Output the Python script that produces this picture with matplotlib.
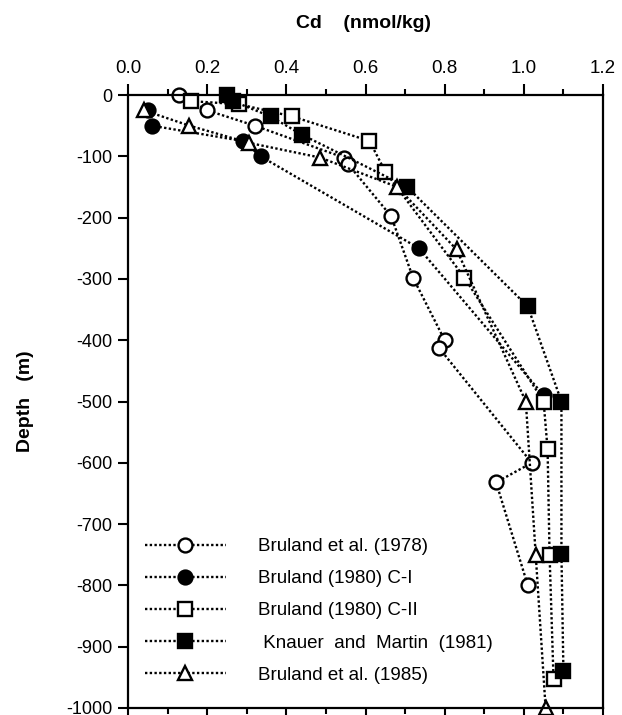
import matplotlib
matplotlib.use('Agg')
import matplotlib.pyplot as plt
from matplotlib.ticker import MultipleLocator, FuncFormatter

plt.rcParams['font.family'] = ['Liberation Sans', 'DejaVu Sans']
plt.rcParams['axes.unicode_minus'] = False

# Cd (nmol/kg) vs depth (m)
b1978_cd = [0.13, 0.20, 0.32, 0.545, 0.555, 0.665, 0.72, 0.80, 0.785, 1.02, 0.93, 1.01]
b1978_z = [0, -25, -50, -102, -112, -198, -298, -400, -412, -600, -632, -800]

c1_cd = [0.05, 0.06, 0.29, 0.335, 0.735, 1.05]
c1_z = [-25, -50, -75, -100, -250, -490]

c2_cd = [0.16, 0.28, 0.415, 0.61, 0.65, 0.85, 1.05, 1.06, 1.065, 1.075]
c2_z = [-10, -15, -35, -75, -125, -298, -500, -578, -750, -952]

km_cd = [0.25, 0.265, 0.36, 0.44, 0.705, 1.01, 1.095, 1.095, 1.10]
km_z = [0, -10, -35, -65, -150, -345, -500, -748, -940]

b1985_cd = [0.04, 0.155, 0.305, 0.485, 0.68, 0.83, 1.005, 1.03, 1.055]
b1985_z = [-25, -50, -78, -102, -150, -252, -500, -750, -1000]

labels = ['Bruland et al. (1978)', 'Bruland (1980) C-I', 'Bruland (1980) C-II',
          ' Knauer  and  Martin  (1981)', 'Bruland et al. (1985)']

fig = plt.figure(figsize=(6.22, 7.15), dpi=100)
ax = fig.add_axes([128/622, 1-708/715, (603-128)/622, (708-95)/715])

series = [(b1978_cd, b1978_z, 'o', 'white'),
          (c1_cd, c1_z, 'o', 'black'),
          (c2_cd, c2_z, 's', 'white'),
          (km_cd, km_z, 's', 'black'),
          (b1985_cd, b1985_z, '^', 'white')]

for (x, z, m, fc), lab in zip(series, labels):
    ax.plot(x, z, color='black', linestyle=(0, (1, 1)), linewidth=1.7,
            marker=m, markersize=10, markerfacecolor=fc, markeredgecolor='black',
            markeredgewidth=1.7, label=lab, clip_on=False)

ax.set_xlim(0, 1.2)
ax.set_ylim(-1000, 0)
ax.xaxis.set_major_locator(MultipleLocator(0.2))
ax.xaxis.set_minor_locator(MultipleLocator(0.1))
ax.yaxis.set_major_locator(MultipleLocator(100))
ax.xaxis.set_major_formatter(FuncFormatter(lambda v, p: '%.1f' % v))
ax.yaxis.set_major_formatter(FuncFormatter(lambda v, p: '%d' % round(v)))

ax.tick_params(axis='x', which='both', top=True, bottom=True, labeltop=True,
               labelbottom=False, direction='out', width=1.5, labelsize=13.5, pad=5)
ax.tick_params(axis='x', which='major', length=8)
ax.tick_params(axis='x', which='minor', length=4)
ax.tick_params(axis='y', which='major', left=True, right=False, direction='out',
               length=7, width=1.5, labelsize=13, pad=4)
for s in ax.spines.values():
    s.set_linewidth(1.6)

fig.text(363/622, 1-23/715, 'Cd    (nmol/kg)', ha='center', va='center',
         fontsize=14, fontweight='bold')
fig.text(25/622, 1-401/715, 'Depth   (m)', ha='center', va='center',
         rotation=90, fontsize=14, fontweight='bold')

ax.legend(loc='upper left', bbox_to_anchor=(145/622, 1-538/715),
          bbox_transform=fig.transFigure, frameon=False, numpoints=1,
          handlelength=4.3, handletextpad=1.75, labelspacing=0.8,
          borderpad=0, borderaxespad=0, prop={'size': 13.5})

fig.savefig('out.png', dpi=100)
